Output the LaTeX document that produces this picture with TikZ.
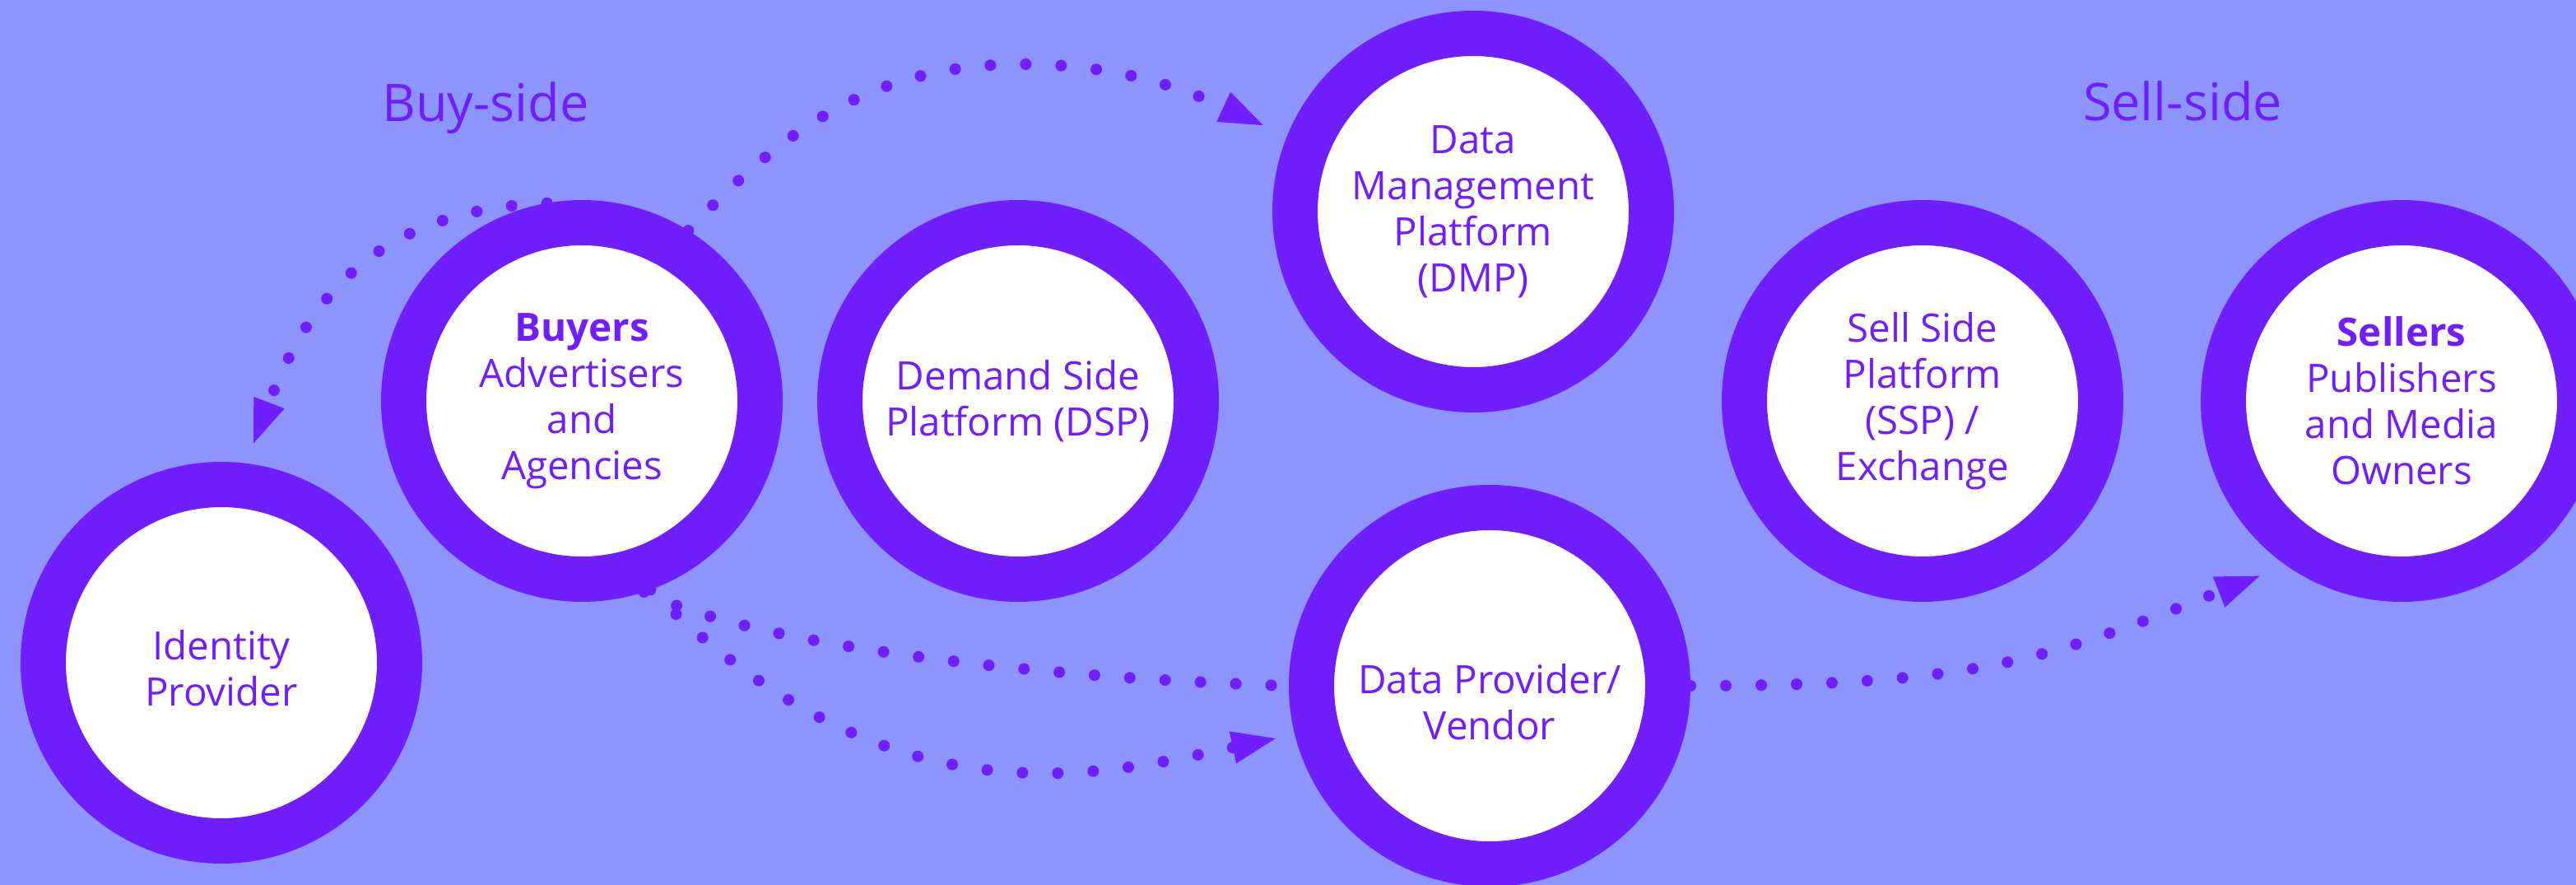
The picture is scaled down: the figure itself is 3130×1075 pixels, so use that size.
\documentclass[tikz,border=0pt]{standalone}
\usepackage{fontspec}
\setmainfont{Open Sans}
\usetikzlibrary{arrows.meta}
\definecolor{bgc}{RGB}{142,148,253}
\definecolor{vio}{RGB}{113,30,255}
\pgfdeclarelayer{bg}
\pgfdeclarelayer{edges}
\pgfsetlayers{bg,edges,main}
\begin{document}
\begin{tikzpicture}[x=1pt,y=-1pt,
  txt/.style={text=vio, align=center, font=\fontsize{47.5}{56}\selectfont, inner sep=0pt},
  ring/.style={txt, circle, draw=vio, fill=white, line width=55pt, minimum size=433pt},
  flow/.style={draw=vio, line width=14pt, line cap=round, dash pattern=on 0pt off 43pt},
  arrowtip/.style={-{Triangle[length=53pt,width=40pt,line width=0pt]}},
  side/.style={text=vio, font=\fontsize{63}{70}\selectfont, anchor=base}]
\useasboundingbox (0,0) rectangle (3130,1075);
\begin{pgfonlayer}{bg}
\fill[bgc] (0,0) rectangle (3130,1075);
\end{pgfonlayer}

\node[ring] (idp) at (269,805) {};
\node[txt] (idpt) at ([yshift=-7pt]idp.center) {Identity\\Provider};
\node[ring] (buy) at (707,487) {\textbf{Buyers}\\Advertisers\\and\\Agencies};
\node[ring] (dsp) at (1237,487) {Demand Side\\Platform (DSP)};
\node[ring] (dmp) at (1790,257) {Data\\Management\\Platform\\(DMP)};
\node[ring] (ssp) at (2336,487) {Sell Side\\Platform\\(SSP) /\\Exchange};
\node[ring] (sel) at (2918,487) {\textbf{Sellers}\\Publishers\\and Media\\Owners};
\node[ring] (dpv) at (1810,833) {};
\node[txt] (dpvt) at ([yshift=-20pt]dpv.center) {Data Provider/\\Vendor};

\node[side] (buyside) at (590,148) {Buy-side};
\node[side] (sellside) at (2652,147) {Sell-side};

\begin{pgfonlayer}{edges}
\draw[flow, arrowtip, shorten >=26pt] (buy.100) .. controls (469,255) and (381,348) .. (idp.83);
\draw[flow, arrowtip, shorten >=32pt] (buy.58) .. controls (955,154) and (1063,78) .. (1243,78)
  .. controls (1363,78) and (1446,111) .. (dmp.158);
\draw[flow] (buy.288) .. controls (930,790) and (1300,825) .. (dpv.west);
\draw[flow, arrowtip, shorten >=24pt] (buy.290) .. controls (1080,1005) and (1328,944) .. (dpv.194);
\draw[flow, arrowtip, shorten >=35pt] (dpv.east) .. controls (2404,833) and (2490,800) .. (sel.235);
\end{pgfonlayer}
\end{tikzpicture}
\end{document}
